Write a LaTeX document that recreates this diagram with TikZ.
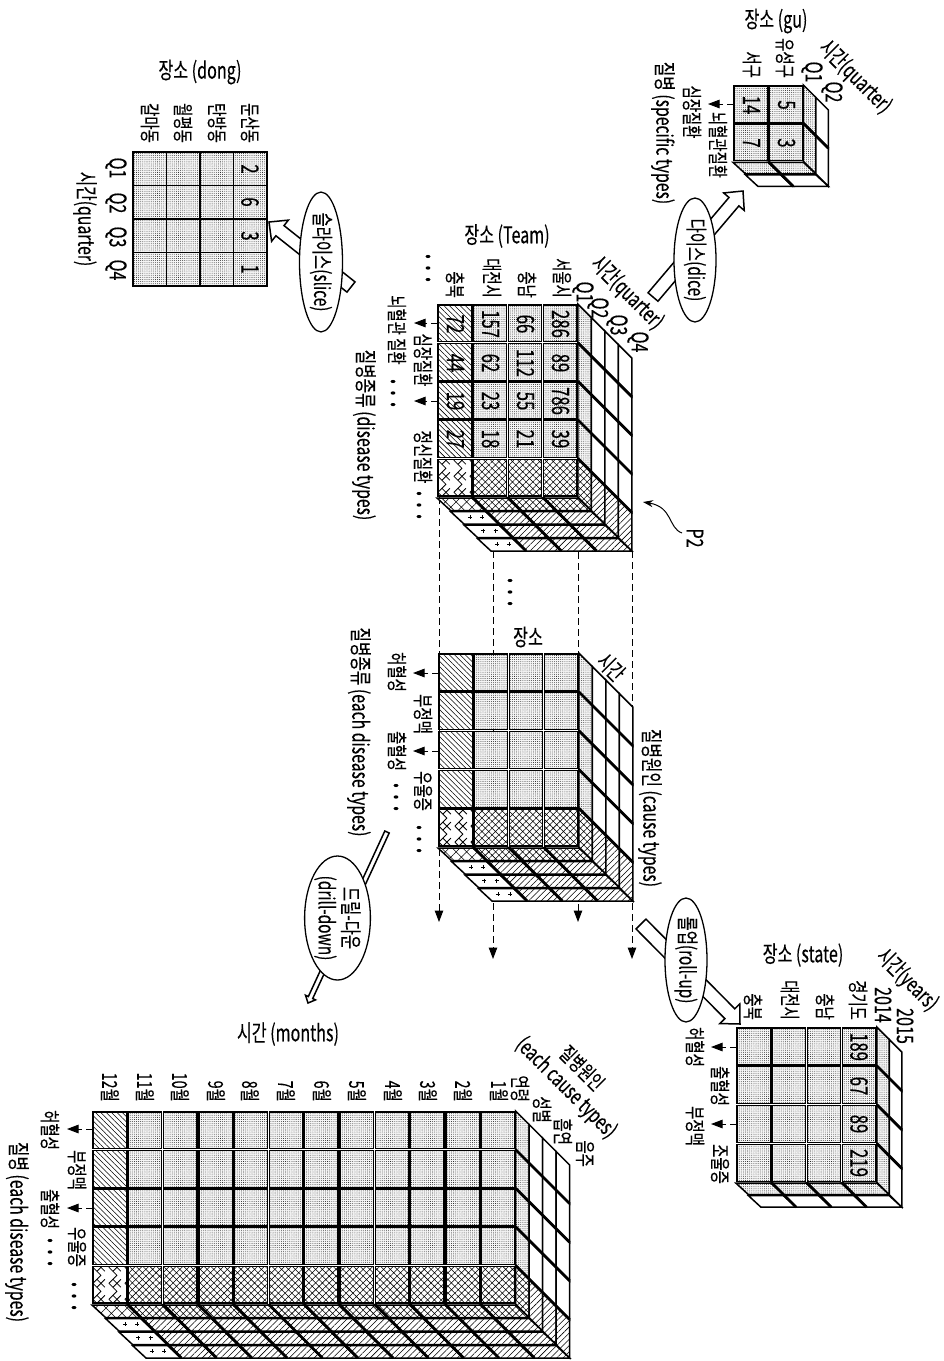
\documentclass[tikz,border=0pt]{standalone}
\usepackage{fontspec}
\setmainfont{Noto Sans CJK KR}[FakeStretch=0.7,FakeBold=0.2]
\usetikzlibrary{calc,patterns.meta,arrows.meta,shapes.geometric}
\tikzset{
  base/.style={line width=1.5pt,draw=black,line join=miter},
  whiteface/.style={base,fill=white},
  dotface/.style={base,preaction={fill=black!4},pattern={Dots[distance=2.1pt,radius=.4pt]}},
  crossface/.style={base,preaction={fill=white},pattern={Hatch[angle=45,distance=4.8pt,line width=.55pt]}},
  nwface/.style={base,preaction={fill=white},pattern={Lines[angle=-45,distance=3.8pt,line width=.55pt]}},
  lineface/.style={base,preaction={fill=white},pattern={Lines[angle=45,distance=4.4pt,line width=.55pt]}},
  wideface/.style={base,preaction={fill=white},pattern={Hatch[angle=45,distance=7.5pt,line width=.55pt]}},
  sep/.style={line width=2.8pt,line cap=butt},
  txt/.style={inner sep=0pt,font=\fontsize{20.5}{22}\selectfont},
  vtxt/.style={txt,rotate=-90},
  htxt/.style={txt,font=\fontsize{23}{25}\selectfont},
  dtxt/.style={txt,rotate=-45,font=\fontsize{22}{24}\selectfont},
  dsmall/.style={txt,rotate=-45},
  axis/.style={txt,rotate=-90,font=\fontsize{22.5}{24}\selectfont},
  numlab/.style={inner sep=0pt,rotate=-90,font=\fontsize{24}{25}\selectfont},
  qlab/.style={inner sep=0pt,rotate=-90,font=\fontsize{23}{25}\selectfont},
  collab/.style={txt,rotate=-90,anchor=east},
  dashline/.style={line width=1pt,dash pattern=on 7pt off 4pt},
  dasharrow/.style={dashline,-{Triangle[length=11.5pt,width=8.5pt]}},
  oval/.style={ellipse,draw,line width=1.3pt,fill=white,inner sep=0pt,rotate=-90,align=center,font=\fontsize{22}{24}\selectfont},
  hollowshape/.style={draw,line width=1.5pt,fill=white,line join=miter}
}
\newcommand{\tdots}{\textbf{.\hspace{6.5pt}.\hspace{6.5pt}.}}
\newcommand{\hollowarr}[5]{%
  \coordinate (hb) at ($(#2)!#5!(#1)$);
  \path[hollowshape] ($(#1)!#3!90:(#2)$) -- ($(hb)!#3!-90:(#1)$) -- ($(hb)!#4!-90:(#1)$) -- (#2)
    -- ($(hb)!#4!90:(#1)$) -- ($(hb)!#3!90:(#1)$) -- ($(#1)!#3!-90:(#2)$) -- cycle;
}
\newcommand{\herring}[4]{% x y w h
  \begin{scope}
    \clip (#1,#2) rectangle ({#1+#3},{#2+#4});
    \foreach \hi in {-1,...,3}{
      \foreach \hj in {-1,...,3}{
        \draw[line width=.8pt] ({#1+\hi*16},{#2+\hj*16+1}) -- ({#1+\hi*16+8},{#2+\hj*16+9}) -- ({#1+\hi*16},{#2+\hj*16+17});
        \draw[line width=.8pt] ({#1+\hi*16+4},{#2+\hj*16+5}) -- ({#1+\hi*16+12},{#2+\hj*16-3});
        \draw[line width=.8pt] ({#1+\hi*16+4},{#2+\hj*16+13}) -- ({#1+\hi*16+12},{#2+\hj*16+21});
      }
    }
  \end{scope}
}
% #1 X, #2 Y, #3 cell w, #4 cell h, #5 cols, #6 rows, #7 layers, #8 layer depth, #9 mode (1 = hatched)
\newcommand{\cube}[9]{%
  \pgfmathtruncatemacro\nlay{#7-1}\pgfmathtruncatemacro\nrow{#6-1}\pgfmathtruncatemacro\ncol{#5-1}
  \pgfmathsetmacro\cW{#3*#5}\pgfmathsetmacro\cH{#4*#6}
  \foreach \lk in {0,...,\nlay}{
    \foreach \lr in {0,...,\nrow}{
      \tikzset{curface/.style=whiteface}
      \ifnum\lk=0 \tikzset{curface/.style=dotface}\fi
      \ifnum#9=1 \ifnum\lr=\nrow
        \ifnum\lk=0 \tikzset{curface/.style=crossface}\else\tikzset{curface/.style=lineface}\fi
      \fi\fi
      \path[curface] ({#1+\cW+\lk*#8},{#2+\lr*#4+\lk*#8}) -- ({#1+\cW+(\lk+1)*#8},{#2+\lr*#4+(\lk+1)*#8})
        -- ({#1+\cW+(\lk+1)*#8},{#2+(\lr+1)*#4+(\lk+1)*#8}) -- ({#1+\cW+\lk*#8},{#2+(\lr+1)*#4+\lk*#8}) -- cycle;
    }
    \foreach \lc in {0,...,\ncol}{
      \tikzset{curface/.style=whiteface}
      \ifnum\lk=0 \tikzset{curface/.style=dotface}\fi
      \ifnum#9=1
        \ifnum\lk=0
          \tikzset{curface/.style=crossface}
          \ifnum\lc=0 \tikzset{curface/.style=wideface}\fi
        \else
          \tikzset{curface/.style=lineface}
          \ifnum\lc=0 \tikzset{curface/.style=whiteface}\fi
        \fi
      \fi
      \path[curface] ({#1+\lc*#3+\lk*#8},{#2+\cH+\lk*#8+1}) -- ({#1+(\lc+1)*#3+\lk*#8},{#2+\cH+\lk*#8+1})
        -- ({#1+(\lc+1)*#3+(\lk+1)*#8},{#2+\cH+(\lk+1)*#8}) -- ({#1+\lc*#3+(\lk+1)*#8},{#2+\cH+(\lk+1)*#8}) -- cycle;
      \ifnum#9=1 \ifnum\lk>0 \ifnum\lc=0
        \foreach \pp in {.45,.8}{
          \draw[line width=.5pt] ({#1+\pp*#3+\lk*#8+3.5},{#2+\cH+\lk*#8+6.5}) ++(-2,0) -- ++(4,0) ++(-2,-2) -- ++(0,4);
        }
      \fi\fi\fi
    }
  }
  \foreach \lr in {1,...,\nrow}{
    \draw[sep] ({#1+\cW},{#2+\lr*#4}) -- ++({#7*#8},{#7*#8});
  }
  \foreach \lc in {1,...,\ncol}{
    \draw[sep] ({#1+\lc*#3},{#2+\cH}) -- ++({#7*#8},{#7*#8});
  }
  \foreach \lc in {0,...,\ncol}{
    \foreach \lr in {0,...,\nrow}{
      \tikzset{curface/.style=dotface}
      \ifnum#9=1
        \ifnum\lc=0 \tikzset{curface/.style=nwface}\fi
        \ifnum\lr=\nrow \tikzset{curface/.style=crossface}\fi
      \fi
      \path[curface] ({#1+\lc*#3+.9},{#2+\lr*#4+.9}) rectangle ({#1+(\lc+1)*#3-.9},{#2+(\lr+1)*#4-.9});
      \ifnum#9=1 \ifnum\lc=0 \ifnum\lr=\nrow
        \path[whiteface] ({#1+.9},{#2+\lr*#4+.9}) rectangle ({#1+#3-.9},{#2+(\lr+1)*#4-.9});
        \herring{#1+.9}{#2+\lr*#4+.9}{#3-1.8}{#4-1.8}
        \draw[base] ({#1+.9},{#2+\lr*#4+.9}) rectangle ({#1+#3-.9},{#2+(\lr+1)*#4-.9});
      \fi\fi\fi
    }
  }
}
\begin{document}
\begin{tikzpicture}[x=1pt,y=-1pt]
\useasboundingbox (0,0) rectangle (944,1361);
\fill[white] (0,0) rectangle (944,1361);

% dashed guide lines between the Team cube and the middle cube
\coordinate (d1a) at (439,497); \coordinate (d1b) at (439,922);
\coordinate (d2a) at (493,551); \coordinate (d2b) at (493,959);
\coordinate (d3a) at (578,497); \coordinate (d3b) at (578,922);
\coordinate (d4a) at (632,551); \coordinate (d4b) at (632,959);
\draw[dasharrow] (d1a) -- (d1b);
\draw[dasharrow] (d2a) -- (d2b);
\draw[dasharrow] (d3a) -- (d3b);
\draw[dasharrow] (d4a) -- (d4b);

% cubes
\cube{437}{304}{35.2}{38.6}{4}{5}{4}{13.5}{1}
\cube{438}{653}{35.2}{38.8}{4}{5}{4}{13.5}{1}
\cube{92}{1111}{35.3}{38.6}{12}{5}{4}{13.5}{1}
\cube{736}{1027}{35.2}{38.8}{4}{4}{2}{12.5}{0}
\cube{733}{85}{35.2}{38.2}{2}{2}{2}{12.5}{0}

% flat dong table
\foreach \ci in {0,...,3}{
  \foreach \cj in {0,...,3}{
    \path[dotface] ({133+\ci*33.5},{152+\cj*33.5}) rectangle ++(33.5,33.5);
  }
}

% Team cube labels
\node[htxt] (tTitle) at (507,236) {장소 (Team)};
\node[collab] (tc1) at (562,298) {서울시};
\node[collab] (tc2) at (527,298) {충남};
\node[collab] (tc3) at (492,298) {대전시};
\node[collab] (tc4) at (455,298) {충북};
\node[vtxt] (tdots1) at (428,268) {\tdots};
\node[qlab] (tq1) at (583,292) {Q1};
\node[qlab] (tq2) at (598,308) {Q2};
\node[qlab] (tq3) at (617,325) {Q3};
\node[qlab] (tq4) at (638,342) {Q4};
\node[dtxt] (tTime) at (627,293) {시간(quarter)};
\node[vtxt] (tr1) at (397,330) {뇌혈관 질환};
\node[vtxt] (tr2) at (423,360) {심장질환};
\node[vtxt] (tr3) at (423,457) {정신질환};
\node[vtxt] (tdots2) at (393,393) {\tdots};
\node[vtxt] (tdots3) at (419,505) {\tdots};
\node[axis] (tAxis) at (364,435) {질병종류 (disease types)};
\coordinate (ta1) at (438,323); \coordinate (ta1e) at (414,323);
\coordinate (ta2) at (438,401); \coordinate (ta2e) at (414,401);
\draw[dasharrow] (ta1) -- (ta1e);
\draw[dasharrow] (ta2) -- (ta2e);
\foreach \nm/\xx/\yy/\val in {a/560.5/324/286,b/560.5/363/89,c/560.5/401/786,d/560.5/439/39,
  e/525.5/324/66,f/525.5/363/112,g/525.5/401/55,h/525.5/439/21,
  i/490.5/324/157,j/490.5/363/62,k/490.5/401/23,l/490.5/439/18,
  m/455.5/324/72,n/455.5/363/44,o/455.5/401/19,p/455.5/439/27}{
  \node[numlab] (tv\nm) at (\xx,\yy) {\val};
}
\node[qlab] (p2) at (695,538) {P2};
\coordinate (p2a) at (682,533); \coordinate (p2b) at (643,502);
\draw[line width=1pt,-{Stealth[length=10pt,width=7pt]}] (p2a) .. controls (668,528) and (673,507) .. (p2b);
\node[vtxt] (mdots) at (510,592) {\tdots};

% middle cube labels
\node[htxt] (mTitle) at (528,637) {장소};
\node[dtxt] (mTime) at (611,667) {시간};
\node[axis] (mCause) at (650,808) {질병원인 (cause types)};
\node[axis] (mAxis) at (359,732) {질병종류 (each disease types)};
\node[vtxt] (mr1) at (397,672) {허혈성};
\node[vtxt] (mr2) at (423,714) {부정맥};
\node[vtxt] (mr3) at (397,751) {출혈성};
\node[vtxt] (mr4) at (423,791) {우울증};
\node[vtxt] (mdots2) at (396,797) {\tdots};
\node[vtxt] (mdots3) at (419,839) {\tdots};
\coordinate (ma1) at (439,673); \coordinate (ma1e) at (413,673);
\coordinate (ma2) at (439,751); \coordinate (ma2e) at (413,751);
\draw[dasharrow] (ma1) -- (ma1e);
\draw[dasharrow] (ma2) -- (ma2e);

% gu
\node[htxt] (gTitle) at (776,21) {장소 (gu)};
\node[collab] (gc1) at (785,78) {유성구};
\node[collab] (gc2) at (752,78) {서구};
\node[qlab] (gq1) at (812,72) {Q1};
\node[qlab] (gq2) at (832,92) {Q2};
\node[dtxt] (gTime) at (855,77) {시간(quarter)};
\node[axis] (gAxis) at (663,133) {질병 (specific types)};
\node[vtxt] (gr1) at (692,112) {심장질환};
\node[vtxt] (gr2) at (718,145) {뇌혈관질환};
\coordinate (ga1) at (734,104); \coordinate (ga1e) at (708,104);
\draw[dasharrow] (ga1) -- (ga1e);
\node[numlab] (gv1) at (786.5,105) {5};
\node[numlab] (gv2) at (786.5,143) {3};
\node[numlab] (gv3) at (751.5,105) {14};
\node[numlab] (gv4) at (751.5,143) {7};

% dong
\node[htxt] (dTitle) at (200,72) {장소 (dong)};
\node[collab] (dc1) at (150,143) {갈마동};
\node[collab] (dc2) at (183,143) {월평동};
\node[collab] (dc3) at (217,143) {탄방동};
\node[collab] (dc4) at (250,143) {둔산동};
\node[qlab] (dq1) at (116,168) {Q1};
\node[qlab] (dq2) at (116,203) {Q2};
\node[qlab] (dq3) at (116,237) {Q3};
\node[qlab] (dq4) at (116,270) {Q4};
\node[axis] (dAxis) at (85,219) {시간(quarter)};
\node[numlab] (dv1) at (250,169) {2};
\node[numlab] (dv2) at (250,202) {6};
\node[numlab] (dv3) at (250,236) {3};
\node[numlab] (dv4) at (250,269) {1};

% state
\node[htxt] (sTitle) at (803,955) {장소 (state)};
\node[collab] (sc1) at (753,1020) {충북};
\node[collab] (sc2) at (790,1020) {대전시};
\node[collab] (sc3) at (825,1020) {충남};
\node[collab] (sc4) at (858,1020) {경기도};
\node[qlab] (sy1) at (883,1005) {2014};
\node[qlab] (sy2) at (905,1026) {2015};
\node[dtxt] (sTime) at (907,980) {시간(years)};
\node[vtxt] (sr1) at (695,1047) {허혈성};
\node[vtxt] (sr2) at (720,1086) {출혈성};
\node[vtxt] (sr3) at (695,1126) {부정맥};
\node[vtxt] (sr4) at (720,1164) {조울증};
\coordinate (sa1) at (737,1047); \coordinate (sa1e) at (711,1047);
\coordinate (sa2) at (737,1124); \coordinate (sa2e) at (711,1124);
\draw[dasharrow] (sa1) -- (sa1e);
\draw[dasharrow] (sa2) -- (sa2e);
\node[numlab] (sv1) at (859,1047) {189};
\node[numlab] (sv2) at (859,1086) {67};
\node[numlab] (sv3) at (859,1124) {89};
\node[numlab] (sv4) at (859,1163) {219};

% months
\node[htxt] (cTitle) at (288,1034) {시간 (months)};
\foreach \nm/\xx in {12/110,11/145,10/180,9/216,8/250,7/286,6/322,5/357,4/393,3/428,2/463,1/499}{
  \node[collab] (cm\nm) at (\xx,1102) {\nm{}월};
}
\node[collab] (cf1) at (520,1102) {연령};
\node[collab] (cf2) at (542,1123) {성별};
\node[collab] (cf3) at (563,1145) {흡연};
\node[collab] (cf4) at (585,1167) {음주};
\node[dsmall] (cCause1) at (582,1068) {질병원인};
\node[dtxt] (cCause2) at (566,1088) {(each cause types)};
\node[axis] (cAxis) at (17,1232) {질병 (each disease types)};
\node[vtxt] (cr1) at (50,1130) {허혈성};
\node[vtxt] (cr2) at (77,1170) {부정맥};
\node[vtxt] (cr3) at (50,1209) {출혈성};
\node[vtxt] (cr4) at (77,1247) {우울증};
\node[vtxt] (cdots1) at (50,1252) {\tdots};
\node[vtxt] (cdots2) at (74,1296) {\tdots};
\coordinate (ca1) at (93,1129); \coordinate (ca1e) at (67,1129);
\coordinate (ca2) at (93,1208); \coordinate (ca2e) at (67,1208);
\draw[dasharrow] (ca1) -- (ca1e);
\draw[dasharrow] (ca2) -- (ca2e);

% operation arrows and ovals
\coordinate (diceTail) at (653,297); \coordinate (diceTip) at (743,191);
\hollowarr{diceTail}{diceTip}{6.5pt}{13.5pt}{14pt}
\node[oval,minimum width=124pt,minimum height=42pt] (dice) at (695,260) {다이스(dice)};
\coordinate (sliceTail) at (351,287); \coordinate (sliceTip) at (269,222);
\hollowarr{sliceTail}{sliceTip}{6.5pt}{13.5pt}{14pt}
\node[oval,minimum width=124pt,minimum height=43pt] (slice) at (321,262) {슬라이스(slice)};
\coordinate (rollTail) at (641,924); \coordinate (rollTip) at (740,1024);
\hollowarr{rollTail}{rollTip}{7pt}{14pt}{14.5pt}
\node[oval,minimum width=124pt,minimum height=42pt] (roll) at (686,960) {롤업(roll-up)};
\coordinate (drillTail) at (387,832); \coordinate (drillTip) at (308,1003);
\hollowarr{drillTail}{drillTip}{2.4pt}{5.5pt}{6pt}
\node[oval,minimum width=124pt,minimum height=63pt] (drill) at (337.5,918) {드릴-다운\\(drill-down)};
\end{tikzpicture}
\end{document}
